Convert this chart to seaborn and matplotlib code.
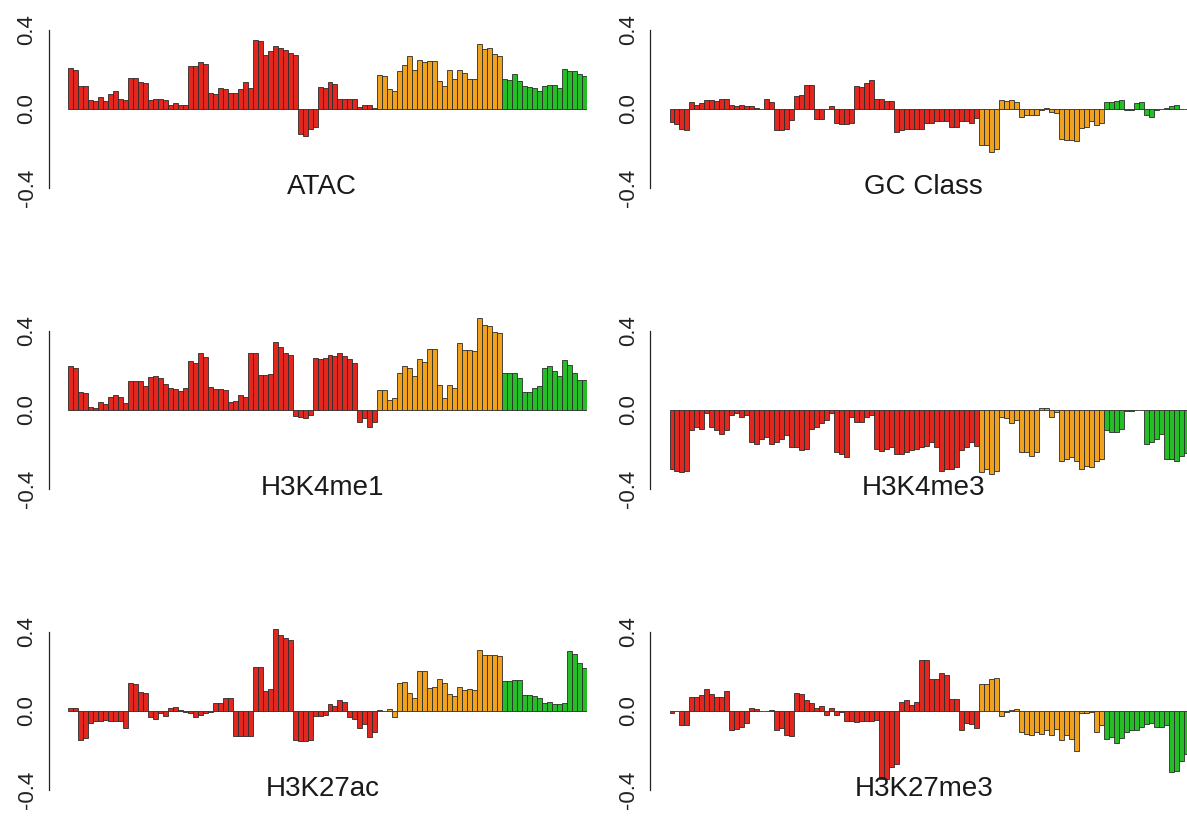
import matplotlib
matplotlib.use("Agg")
import matplotlib.pyplot as plt
import matplotlib.transforms as mtransforms
import seaborn as sns
import pandas as pd

# bars per group (red / orange / green)
n_red, n_orange, n_green = 62, 25, 17
group_colors = {"red": "#E2271F", "orange": "#F0A21E", "green": "#25BE27"}

ytick_vals = [-0.4, 0.0, 0.4]
ytick_text = ["-0.4", "0.0", "0.4"]

atac = [
    # red
    0.21, 0.20, 0.115, 0.115, 0.045, 0.04, 0.06, 0.04, 0.075, 0.09,
    0.05, 0.045, 0.155, 0.155, 0.135, 0.13, 0.045, 0.05, 0.05, 0.045,
    0.02, 0.03, 0.02, 0.02, 0.22, 0.22, 0.24, 0.23, 0.08, 0.075,
    0.105, 0.10, 0.08, 0.08, 0.10, 0.135, 0.105, 0.35, 0.345, 0.275,
    0.295, 0.32, 0.31, 0.30, 0.285, 0.275, -0.125, -0.135, -0.10, -0.09,
    0.11, 0.105, 0.137, 0.127, 0.05, 0.05, 0.05, 0.05, 0.01, 0.02,
    0.02, 0.005,
    # orange
    0.17, 0.165, 0.10, 0.09, 0.19, 0.225, 0.27, 0.20, 0.25, 0.24,
    0.245, 0.245, 0.14, 0.115, 0.20, 0.15, 0.20, 0.18, 0.15, 0.15,
    0.33, 0.305, 0.31, 0.28, 0.27,
    # green
    0.15, 0.145, 0.175, 0.14, 0.115, 0.11, 0.105, 0.09, 0.118, 0.123,
    0.123, 0.105, 0.205, 0.19, 0.19, 0.175, 0.165,
]

gc_class = [
    -0.065, -0.075, -0.10, -0.105, 0.036, 0.022, 0.03, 0.044, 0.048, 0.043,
    0.05, 0.05, 0.022, 0.014, 0.019, 0.017, 0.014, 0.005, 0.0, 0.05,
    0.036, -0.105, -0.105, -0.10, -0.055, 0.068, 0.073, 0.12, 0.123, -0.05,
    -0.05, 0.0, 0.014, -0.07, -0.075, -0.075, -0.07, 0.115, 0.11, 0.13,
    0.147, 0.05, 0.05, 0.043, 0.04, -0.115, -0.105, -0.10, -0.102, -0.10,
    -0.10, -0.07, -0.07, -0.06, -0.06, -0.063, -0.09, -0.09, -0.06, -0.063,
    -0.07, -0.046,
    -0.183, -0.183, -0.217, -0.20, 0.048, 0.04, 0.048, 0.034, -0.041, -0.03,
    -0.03, -0.03, -0.004, 0.005, -0.017, -0.02, -0.154, -0.157, -0.157, -0.162,
    -0.097, -0.089, -0.063, -0.08, -0.072,
    0.036, 0.036, 0.04, 0.048, -0.007, -0.003, 0.03, 0.036, -0.03, -0.038,
    -0.007, 0.0, 0.005, 0.014, 0.019, 0.002, 0.001,
]

h3k4me1 = [
    0.222, 0.214, 0.09, 0.085, 0.017, 0.009, 0.043, 0.029, 0.068, 0.077,
    0.065, 0.034, 0.149, 0.149, 0.145, 0.123, 0.166, 0.171, 0.162, 0.133,
    0.111, 0.108, 0.094, 0.111, 0.248, 0.24, 0.29, 0.268, 0.116, 0.108,
    0.108, 0.103, 0.04, 0.048, 0.077, 0.065, 0.29, 0.287, 0.176, 0.176,
    0.183, 0.345, 0.32, 0.29, 0.278, -0.03, -0.034, -0.043, -0.026, 0.265,
    0.26, 0.265, 0.278, 0.273, 0.29, 0.273, 0.26, 0.236, -0.06, -0.043,
    -0.085, -0.06,
    0.103, 0.103, 0.051, 0.06, 0.188, 0.222, 0.214, 0.171, 0.256, 0.244,
    0.308, 0.308, 0.128, 0.06, 0.128, 0.111, 0.337, 0.304, 0.304, 0.299,
    0.465, 0.432, 0.424, 0.397, 0.39,
    0.185, 0.185, 0.185, 0.162, 0.089, 0.089, 0.111, 0.12, 0.214, 0.222,
    0.2, 0.174, 0.253, 0.226, 0.188, 0.154, 0.15,
]

h3k4me3 = [
    -0.30, -0.308, -0.316, -0.308, -0.103, -0.085, -0.094, -0.017, -0.085, -0.103,
    -0.12, -0.103, -0.026, -0.017, -0.034, -0.026, -0.162, -0.174, -0.145, -0.137,
    -0.174, -0.162, -0.145, -0.128, -0.188, -0.188, -0.205, -0.197, -0.094, -0.085,
    -0.068, -0.051, -0.017, -0.214, -0.222, -0.236, -0.034, -0.06, -0.06, -0.034,
    -0.026, -0.197, -0.21, -0.197, -0.188, -0.222, -0.222, -0.214, -0.205, -0.197,
    -0.188, -0.18, -0.162, -0.188, -0.308, -0.30, -0.30, -0.29, -0.205, -0.188,
    -0.162, -0.18,
    -0.316, -0.30, -0.325, -0.308, -0.034, -0.043, -0.068, -0.051, -0.214, -0.214,
    -0.231, -0.214, 0.009, 0.009, -0.034, -0.009, -0.256, -0.248, -0.24, -0.256,
    -0.30, -0.282, -0.29, -0.256, -0.248,
    -0.103, -0.11, -0.11, -0.094, -0.003, -0.003, 0.0, 0.0, -0.171, -0.162,
    -0.145, -0.12, -0.248, -0.248, -0.256, -0.231, -0.22,
]

h3k27ac = [
    0.014, 0.017, -0.145, -0.137, -0.06, -0.051, -0.051, -0.046, -0.051, -0.051,
    -0.051, -0.085, 0.14, 0.137, 0.094, 0.091, -0.031, -0.039, -0.009, -0.026,
    0.014, 0.022, 0.003, -0.003, -0.009, -0.029, -0.022, -0.009, -0.005, 0.043,
    0.043, 0.068, 0.068, -0.128, -0.128, -0.128, -0.128, 0.222, 0.222, 0.10,
    0.111, 0.414, 0.385, 0.368, 0.359, -0.145, -0.154, -0.154, -0.145, -0.026,
    -0.026, -0.02, 0.034, 0.024, 0.055, 0.046, -0.031, -0.039, -0.085, -0.065,
    -0.133, -0.108,
    0.003, 0.0, 0.01, -0.03, 0.14, 0.145, 0.089, 0.068, 0.205, 0.205,
    0.116, 0.12, 0.164, 0.14, 0.085, 0.075, 0.12, 0.106, 0.11, 0.106,
    0.308, 0.282, 0.282, 0.282, 0.28,
    0.154, 0.154, 0.157, 0.157, 0.08, 0.08, 0.075, 0.068, 0.043, 0.046,
    0.034, 0.034, 0.038, 0.306, 0.29, 0.243, 0.217,
]

h3k27me3 = [
    -0.01, 0.0, -0.072, -0.072, 0.073, 0.073, 0.079, 0.111, 0.085, 0.073,
    0.073, 0.099, -0.097, -0.089, -0.08, -0.063, 0.017, 0.009, 0.002, 0.0,
    0.004, -0.097, -0.085, -0.123, -0.126, 0.09, 0.087, 0.056, 0.043, 0.014,
    0.026, -0.02, 0.014, -0.02, -0.003, -0.05, -0.05, -0.058, -0.05, -0.05,
    -0.05, -0.046, -0.345, -0.345, -0.285, -0.268, 0.048, 0.056, 0.031, 0.048,
    0.256, 0.256, 0.162, 0.162, 0.19, 0.18, 0.06, 0.06, -0.094, -0.06,
    -0.067, -0.084,
    0.137, 0.137, 0.16, 0.168, -0.026, -0.005, 0.005, 0.01, -0.106, -0.115,
    -0.12, -0.106, -0.115, -0.097, -0.12, -0.089, -0.149, -0.123, -0.14, -0.20,
    -0.012, -0.009, -0.003, -0.106, -0.072,
    -0.14, -0.132, -0.162, -0.135, -0.106, -0.097, -0.097, -0.08, -0.067, -0.06,
    -0.08, -0.08, -0.072, -0.311, -0.306, -0.251, -0.217,
]

panels = [
    ("ATAC", atac), ("GC Class", gc_class),
    ("H3K4me1", h3k4me1), ("H3K4me3", h3k4me3),
    ("H3K27ac", h3k27ac), ("H3K27me3", h3k27me3),
]

groups = ["red"] * n_red + ["orange"] * n_orange + ["green"] * n_green
n_bars = len(groups)

sns.set_style("white")
plt.rcParams["font.family"] = ["Liberation Sans", "DejaVu Sans"]

W, H = 1187, 818
fig = plt.figure(figsize=(W / 100, H / 100), dpi=100)

px_per_unit = 197.5
ylo, yhi = -0.45, 0.5
zero_rows = [109, 410, 711]
col_left = [68, 669.5]
col_width = 519

for i, (name, vals) in enumerate(panels):
    if len(vals) != n_bars:
        raise ValueError(f"{name}: {len(vals)} values")
    r, c = divmod(i, 2)
    y0 = zero_rows[r]
    top_px = y0 - yhi * px_per_unit
    bot_px = y0 - ylo * px_per_unit
    ax = fig.add_axes([col_left[c] / W, 1 - bot_px / H, col_width / W, (bot_px - top_px) / H])

    df = pd.DataFrame({"pos": range(n_bars), "value": vals, "group": groups})
    sns.barplot(data=df, x="pos", y="value", hue="group", palette=group_colors,
                dodge=False, width=1.0, saturation=1, errorbar=None,
                edgecolor="#2b2b2b", linewidth=0.6, legend=False, ax=ax)

    ax.set_xlim(-0.5, n_bars - 0.5)
    ax.set_ylim(ylo, yhi)
    ax.set_xticks([])
    ax.set_xlabel("")
    ax.set_ylabel("")
    ax.set_yticks(ytick_vals, [""] * len(ytick_vals))
    ax.tick_params(axis="y", length=5, width=0.9, colors="#222222")
    for s in ("top", "right", "bottom"):
        ax.spines[s].set_visible(False)
    ax.spines["left"].set_bounds(-0.4, 0.4)
    ax.spines["left"].set_position(("outward", 14))
    ax.spines["left"].set_linewidth(0.9)
    ax.spines["left"].set_color("#222222")
    ax.patch.set_alpha(0)

    # R-style vertical tick labels, drawn as text left of the axis line
    trans = mtransforms.blended_transform_factory(ax.transAxes, ax.transData)
    lab_trans = trans + mtransforms.ScaledTranslation(-41 / 100, 0, fig.dpi_scale_trans)
    for v, t in zip(ytick_vals, ytick_text):
        ax.text(0, v, t, transform=lab_trans, rotation=90, ha="center", va="center",
                fontsize=16, color="#222222")

    ax.text(0.49, -0.395, name, transform=trans, ha="center", va="center",
            fontsize=20, color="#1a1a1a")

fig.savefig("out.png", dpi=100)
plt.close(fig)
